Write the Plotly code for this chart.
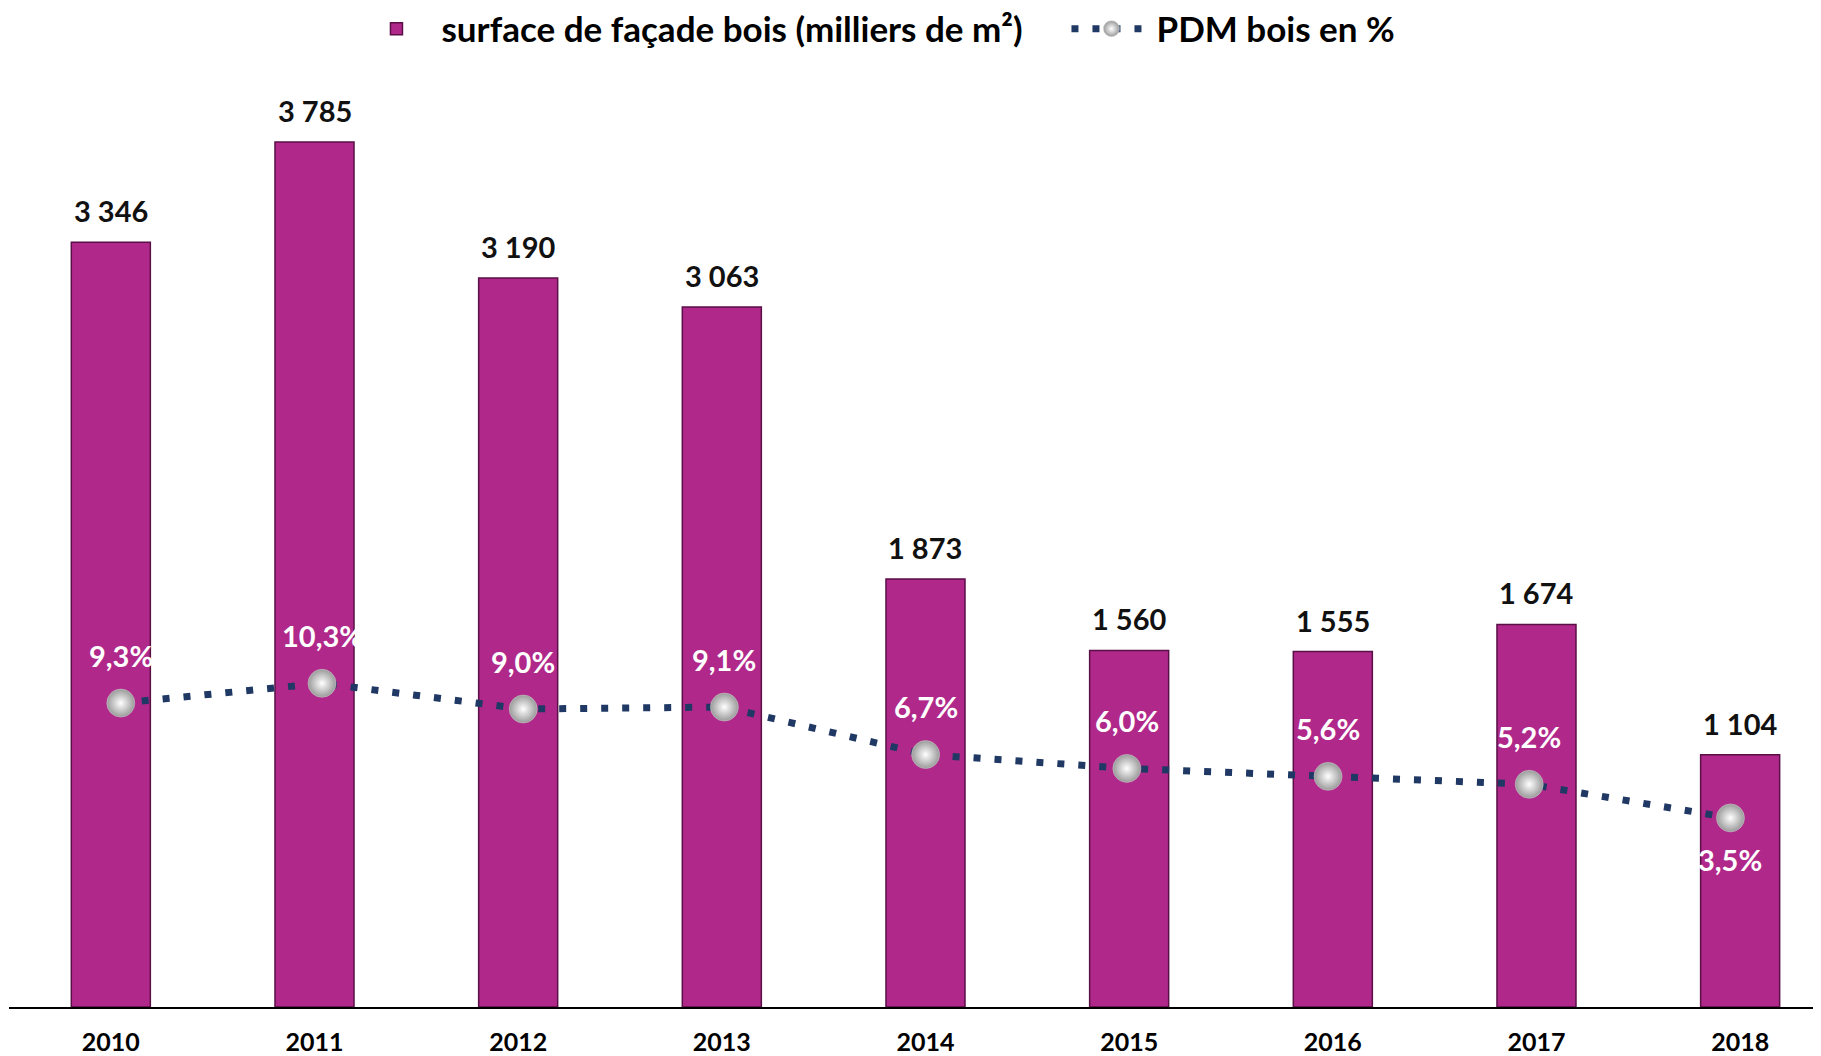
import plotly.graph_objects as go

years = ["2010", "2011", "2012", "2013", "2014", "2015", "2016", "2017", "2018"]
surface = [3346, 3785, 3190, 3063, 1873, 1560, 1555, 1674, 1104]
pdm = [9.3, 10.3, 9.0, 9.1, 6.7, 6.0, 5.6, 5.2, 3.5]

surface_labels = [f"{v:,}".replace(",", " ") for v in surface]
pdm_labels = [f"{v:.1f}".replace(".", ",") + "%" for v in pdm]

FONT = "Lato"
BAR_COLOR = "#B0298A"
LINE_COLOR = "#1F3864"

fig = go.Figure()

fig.add_trace(go.Bar(
    x=years, y=surface,
    name="surface de façade bois (milliers de m²)",
    marker=dict(color=BAR_COLOR, line=dict(color="#5A0F47", width=1.5)),
    hoverinfo="x+y",
))

fig.add_trace(go.Scatter(
    x=years, y=pdm,
    name="PDM bois en %",
    xaxis="x2", yaxis="y2",
    mode="lines+markers",
    line=dict(color=LINE_COLOR, width=7, dash="7px,14px"),
    marker=dict(size=28, color="#9a9a9a",
                gradient=dict(type="radial", color="#ffffff"),
                line=dict(color="#d0d0d0", width=0.5)),
))

annotations = []
for i, (v, lab) in enumerate(zip(surface, surface_labels)):
    annotations.append(dict(
        x=i, y=v, xref="x", yref="y", text=lab, showarrow=False,
        yanchor="bottom", yshift=12,
        font=dict(family=FONT, size=29, color="#111111", weight="bold"),
    ))
for i, (v, lab) in enumerate(zip(pdm, pdm_labels)):
    below = (i == len(pdm) - 1)
    annotations.append(dict(
        x=i, y=v, xref="x2", yref="y2", text=lab, showarrow=False,
        yanchor="middle", yshift=(-42 if below else 48),
        font=dict(family=FONT, size=29, color="#ffffff", weight="bold"),
    ))

fig.update_layout(
    width=1813, height=1048,
    margin=dict(l=1, r=0, t=112, b=40),
    paper_bgcolor="white", plot_bgcolor="white",
    bargap=0.612,
    showlegend=True,
    legend=dict(
        orientation="h", x=0.189, xanchor="left",
        yref="container", y=0.98, yanchor="middle",
        font=dict(family=FONT, size=35, color="#000000", weight="bold"),
        itemwidth=80, entrywidth=620, entrywidthmode="pixels",
        traceorder="normal",
    ),
    xaxis=dict(
        type="category", categoryorder="array", categoryarray=years,
        range=[-0.5, 8.397], showline=True, linecolor="#000000", linewidth=2,
        showgrid=False, zeroline=False, ticks="", ticklabelstandoff=12,
        tickfont=dict(family=FONT, size=25, color="#000000", weight="bold"),
    ),
    xaxis2=dict(
        type="category", categoryorder="array", categoryarray=years,
        overlaying="x", anchor="y", range=[-0.5557, 8.450], visible=False,
    ),
    yaxis=dict(range=[0, 3881], visible=False, showgrid=False, zeroline=False),
    yaxis2=dict(range=[-6.05, 38.75], overlaying="y", anchor="x", visible=False,
                showgrid=False, zeroline=False),
    annotations=annotations,
)

fig.write_html("out.html")
